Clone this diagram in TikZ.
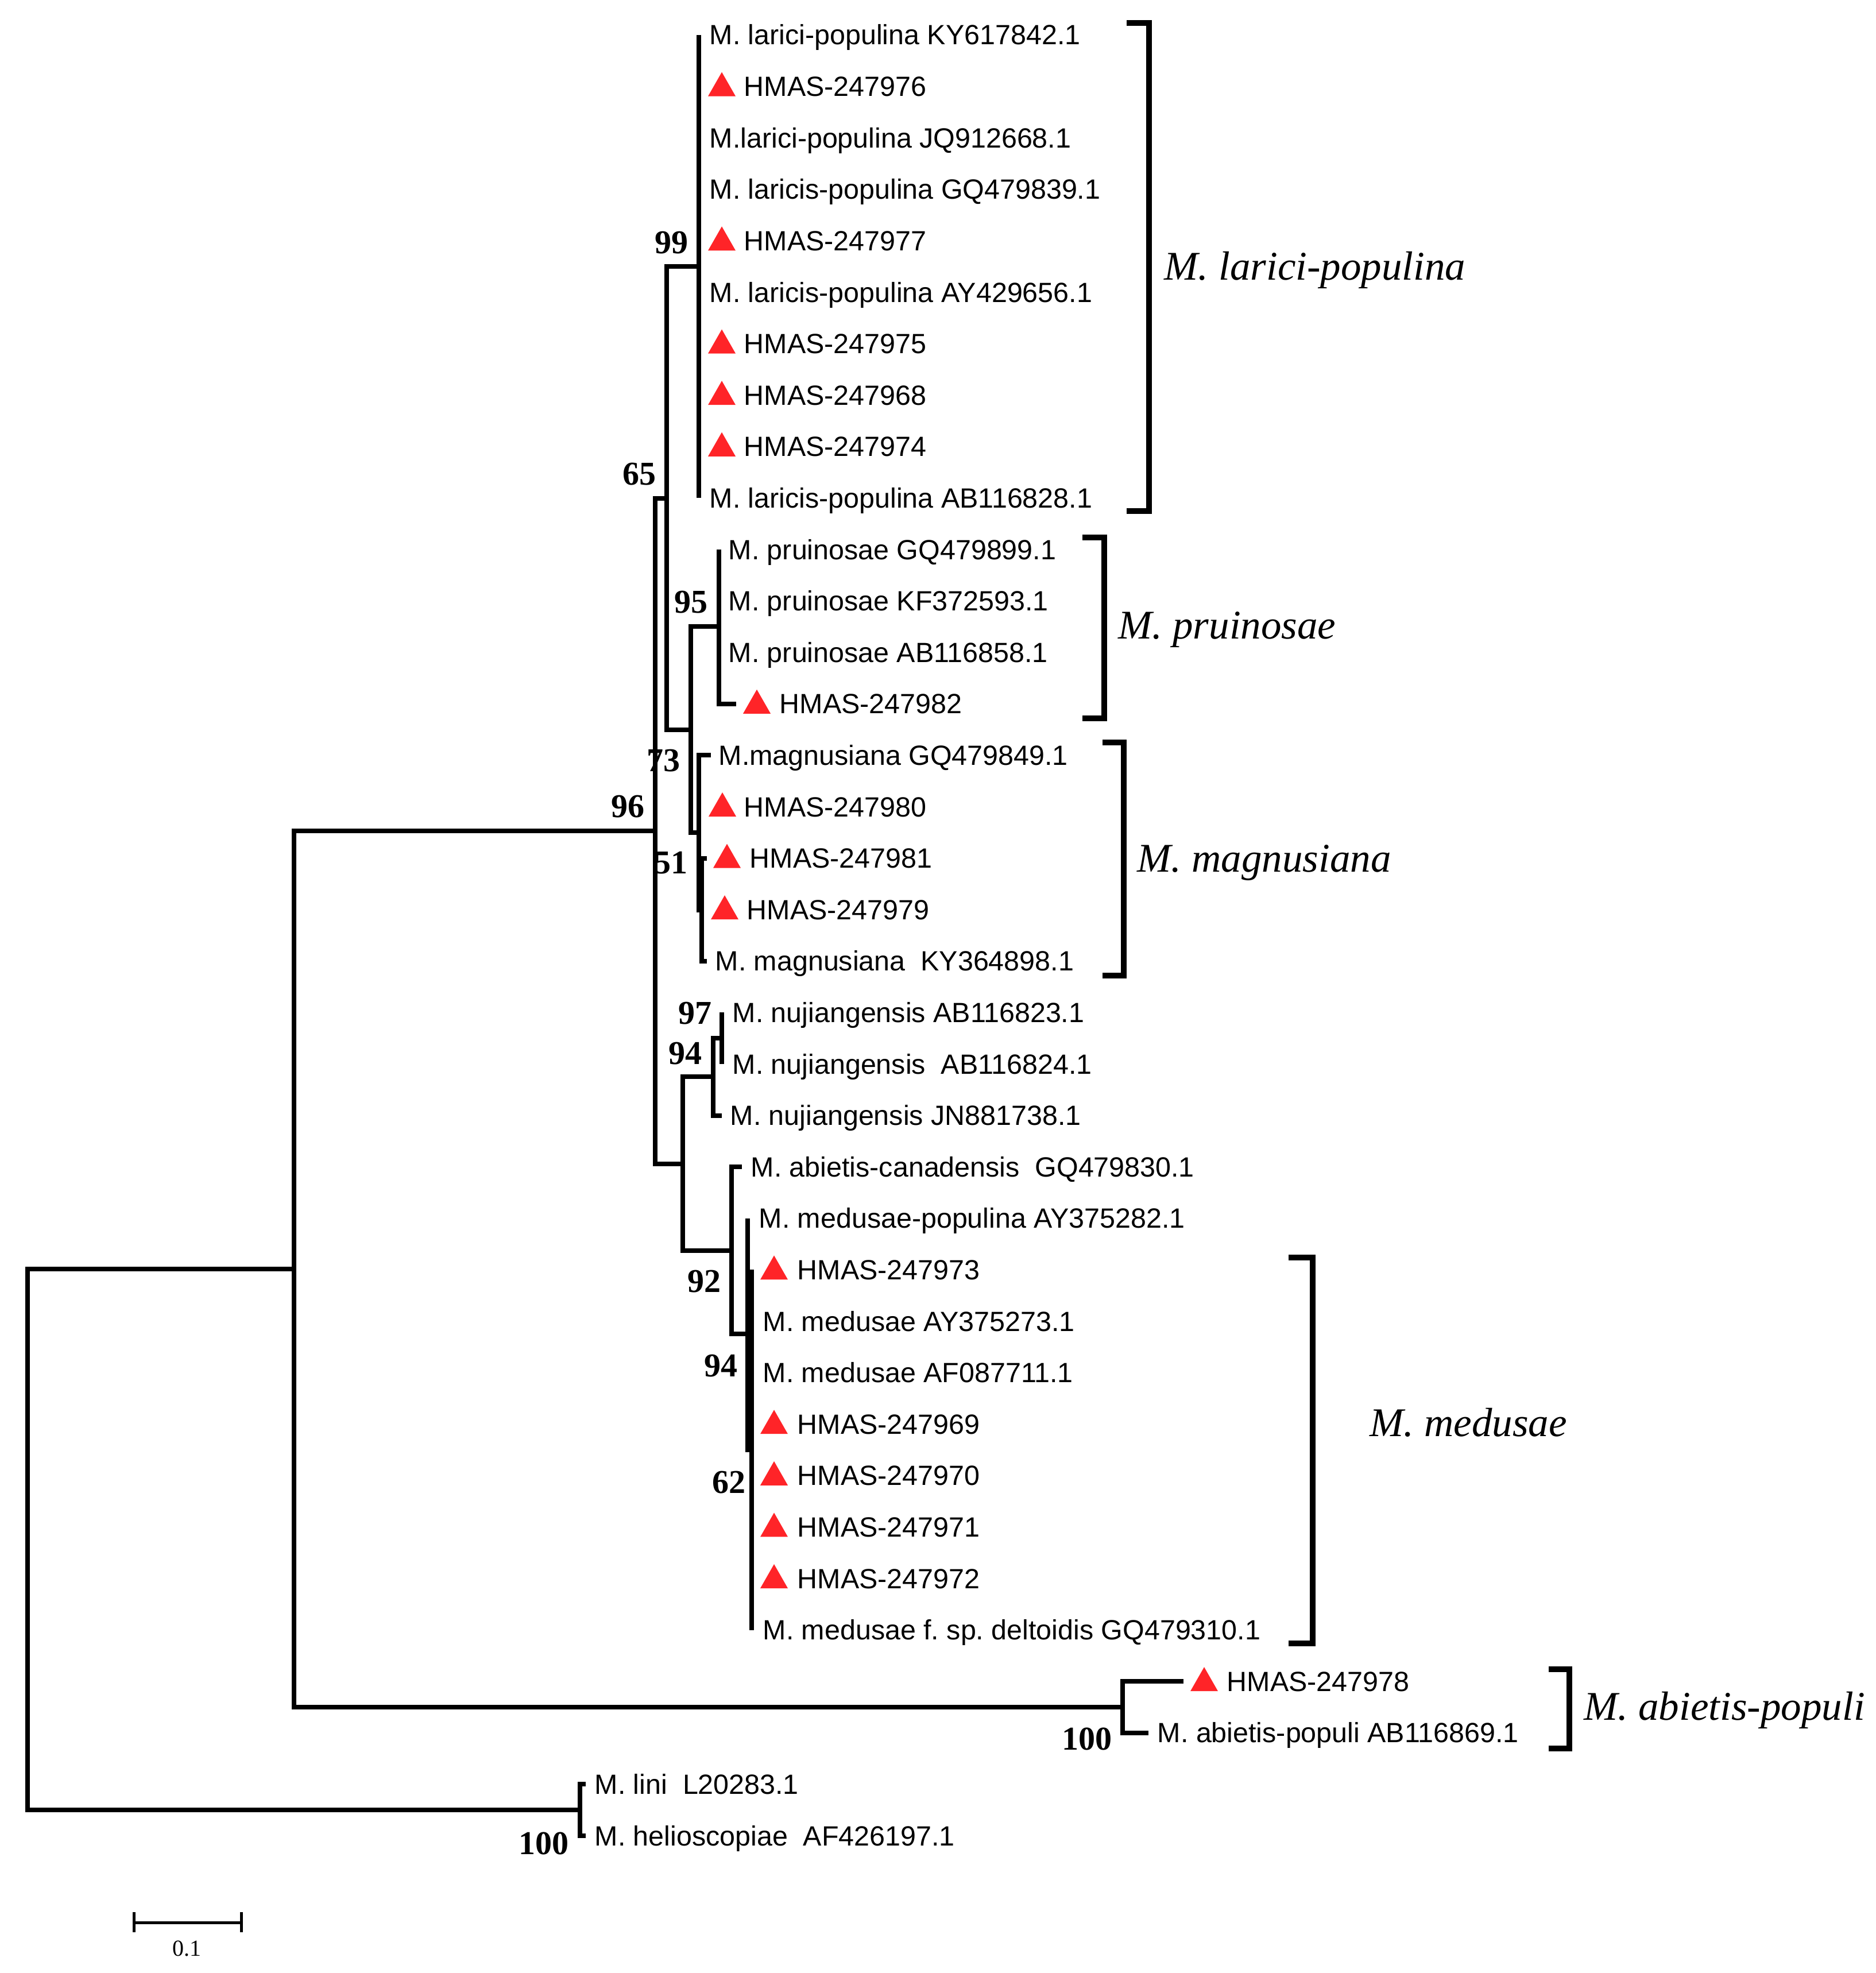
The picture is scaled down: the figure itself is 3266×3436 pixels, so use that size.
\documentclass[tikz,border=0pt]{standalone}
\usepackage{fontspec}
\setmainfont{Liberation Serif}
\newfontfamily\arialfont{Liberation Sans}
\definecolor{trired}{RGB}{255,36,40}
\newcommand\hmtri[2]{\fill[trired] (#1,#2) -- ++(48,0) -- ++(-24,-42) -- cycle;}
\tikzset{
  branch/.style={line width=2pt, line join=miter, line cap=butt},
  bracketline/.style={line width=2.4pt, line join=miter},
  leaf/.style={font=\arialfont\fontsize{12.1}{14}\selectfont, anchor=base west, inner sep=0pt},
  boot/.style={font=\bfseries\fontsize{14.5}{16}\selectfont, anchor=center, inner sep=0pt},
  grp/.style={font=\itshape\fontsize{17.75}{20}\selectfont, anchor=base west, inner sep=0pt},
}
\begin{document}
\frenchspacing
\begin{tikzpicture}[x=0.25pt,y=-0.25pt]
\useasboundingbox (0,0) rectangle (3266,3436);

% ---------- bootstrap labels (drawn first, lines over them) ----------
\node[boot] (b99)  at (1169,423)  {99};
\node[boot] (b65)  at (1113,826)  {65};
\node[boot] (b95)  at (1203,1049) {95};
\node[boot] (b73)  at (1155,1325) {73};
\node[boot] (b96)  at (1093,1405) {96};
\node[boot] (b51)  at (1168,1503) {51};
\node[boot] (b97)  at (1210,1765) {97};
\node[boot] (b94a) at (1193,1835) {94};
\node[boot] (b92)  at (1226,2232) {92};
\node[boot] (b94b) at (1255,2379) {94};
\node[boot] (b62)  at (1269,2582) {62};
\node[boot] (b100a) at (1893,3028) {100};
\node[boot] (b100b) at (947,3210) {100};

% ---------- internal nodes ----------
\coordinate (nR)   at (47.5,2681);
\coordinate (nA)   at (512,2210);
\coordinate (nL)   at (1009.5,3152.2);
\coordinate (nAP)  at (1955,2973);
\coordinate (n96)  at (1141,1447);
\coordinate (n65)  at (1161,867.5);
\coordinate (n99)  at (1217,464.2);
\coordinate (n73)  at (1203,1270.7);
\coordinate (n95)  at (1251.5,1091.4);
\coordinate (nMag) at (1217,1450);
\coordinate (n51)  at (1222,1584.6);
\coordinate (nX)   at (1189,2026.6);
\coordinate (n97)  at (1257,1808.2);
\coordinate (n94a) at (1241.5,1875.4);
\coordinate (n92)  at (1274,2177.8);
\coordinate (n94b) at (1302,2323.4);
\coordinate (n62)  at (1309,2525);

% ---------- leaf tips ----------
\coordinate (l1)  at (1217,61);
\coordinate (l10) at (1217,867.4);
\coordinate (l11) at (1251.5,957);
\coordinate (l14) at (1282,1225.8);
\coordinate (l15) at (1238,1315.4);
\coordinate (l17) at (1231,1494.6);
\coordinate (l19) at (1231,1673.8);
\coordinate (l20) at (1257,1763.4);
\coordinate (l21) at (1257,1853);
\coordinate (l22) at (1257,1942.6);
\coordinate (l23) at (1292,2032.2);
\coordinate (l24) at (1302,2121.8);
\coordinate (l25) at (1309,2211.4);
\coordinate (l32) at (1309,2838.6);
\coordinate (l33) at (2061,2928.2);
\coordinate (l34) at (2000,3017.8);
\coordinate (l35) at (1020,3107.4);
\coordinate (l36) at (1020,3197);

% ---------- branches ----------
\draw[branch] (nA) -| (nR) |- (nL);
\draw[branch] (l35) -| (nL) |- (l36);
\draw[branch] (n96) -| (nA) |- (nAP);
\draw[branch] (l33) -| (nAP) |- (l34);
\draw[branch] (n65) -| (n96) |- (nX);
\draw[branch] (n99) -| (n65) |- (n73);
\draw[branch] (l1) -- (n99) -- (l10);
\draw[branch] (n95) -| (n73) |- (nMag);
\draw[branch] (l11) -- (n95) |- (l14);
\draw[branch] (l15) -| (nMag) |- (n51);
\draw[branch] (l17) -| (n51) |- (l19);
\draw[branch] (n94a) -| (nX) |- (n92);
\draw[branch] (n97) -| (n94a) |- (l22);
\draw[branch] (l20) -- (n97) -- (l21);
\draw[branch] (l23) -| (n92) |- (n94b);
\draw[branch] (l24) -- (n94b) |- (n62);
\draw[branch] (l25) -- (n62) -- (l32);

% ---------- triangles ----------
\hmtri{1233}{167.6}
\hmtri{1233}{436.4}
\hmtri{1233}{615.6}
\hmtri{1233}{705.2}
\hmtri{1233}{794.8}
\hmtri{1294}{1242.8}
\hmtri{1234}{1422}
\hmtri{1242}{1511.6}
\hmtri{1238}{1601.2}
\hmtri{1324}{2228.4}
\hmtri{1324}{2497.2}
\hmtri{1324}{2586.8}
\hmtri{1324}{2676.4}
\hmtri{1324}{2766}
\hmtri{2073}{2945.2}

% ---------- leaf labels ----------
\node[leaf] (t1)  at (1235,78)     {M. larici-populina KY617842.1};
\node[leaf] (t2)  at (1295,167.6)  {HMAS-247976};
\node[leaf] (t3)  at (1235,257.2)  {M.larici-populina JQ912668.1};
\node[leaf] (t4)  at (1235,346.8)  {M. laricis-populina GQ479839.1};
\node[leaf] (t5)  at (1295,436.4)  {HMAS-247977};
\node[leaf] (t6)  at (1235,526)    {M. laricis-populina AY429656.1};
\node[leaf] (t7)  at (1295,615.6)  {HMAS-247975};
\node[leaf] (t8)  at (1295,705.2)  {HMAS-247968};
\node[leaf] (t9)  at (1295,794.8)  {HMAS-247974};
\node[leaf] (t10) at (1235,884.4)  {M. laricis-populina AB116828.1};
\node[leaf] (t11) at (1268,974)    {M. pruinosae GQ479899.1};
\node[leaf] (t12) at (1268,1063.6) {M. pruinosae KF372593.1};
\node[leaf] (t13) at (1268,1153.2) {M. pruinosae AB116858.1};
\node[leaf] (t14) at (1357,1242.8) {HMAS-247982};
\node[leaf] (t15) at (1251,1332.4) {M.magnusiana GQ479849.1};
\node[leaf] (t16) at (1295,1422)   {HMAS-247980};
\node[leaf] (t17) at (1305,1511.6) {HMAS-247981};
\node[leaf] (t18) at (1300,1601.2) {HMAS-247979};
\node[leaf] (t19) at (1245,1690.8) {M. magnusiana\ \ KY364898.1};
\node[leaf] (t20) at (1275,1780.4) {M. nujiangensis AB116823.1};
\node[leaf] (t21) at (1275,1870)   {M. nujiangensis\ \ AB116824.1};
\node[leaf] (t22) at (1271,1959.6) {M. nujiangensis JN881738.1};
\node[leaf] (t23) at (1307,2049.2) {M. abietis-canadensis\ \ GQ479830.1};
\node[leaf] (t24) at (1321,2138.8) {M. medusae-populina AY375282.1};
\node[leaf] (t25) at (1388,2228.4) {HMAS-247973};
\node[leaf] (t26) at (1328,2318)   {M. medusae AY375273.1};
\node[leaf] (t27) at (1328,2407.6) {M. medusae AF087711.1};
\node[leaf] (t28) at (1388,2497.2) {HMAS-247969};
\node[leaf] (t29) at (1388,2586.8) {HMAS-247970};
\node[leaf] (t30) at (1388,2676.4) {HMAS-247971};
\node[leaf] (t31) at (1388,2766)   {HMAS-247972};
\node[leaf] (t32) at (1328,2855.6) {M. medusae f. sp. deltoidis GQ479310.1};
\node[leaf] (t33) at (2136,2945.2) {HMAS-247978};
\node[leaf] (t34) at (2015,3034.8) {M. abietis-populi AB116869.1};
\node[leaf] (t35) at (1035,3124.4) {M. lini\ \ L20283.1};
\node[leaf] (t36) at (1035,3214)   {M. helioscopiae\ \ AF426197.1};

% ---------- clade brackets ----------
\draw[bracketline] (1962,40) -- (2001,40) -- (2001,890) -- (1962,890);
\draw[bracketline] (1885,936) -- (1923,936) -- (1923,1251) -- (1885,1251);
\draw[bracketline] (1920,1293) -- (1957,1293) -- (1957,1699) -- (1920,1699);
\draw[bracketline] (2244,2190) -- (2286,2190) -- (2286,2862) -- (2244,2862);
\draw[bracketline] (2697,2907) -- (2733,2907) -- (2733,3045) -- (2697,3045);

\node[grp] (g1) at (2027,487)  {M. larici-populina};
\node[grp] (g2) at (1947,1112) {M. pruinosae};
\node[grp] (g3) at (1980,1518) {M. magnusiana};
\node[grp] (g4) at (2385,2501) {M. medusae};
\node[grp] (g5) at (2758,2995) {M. abietis-populi};

% ---------- scale bar ----------
\coordinate (sb1) at (233.5,3348);
\coordinate (sb2) at (420.5,3348);
\draw[line width=1.25pt] (sb1) -- (sb2);
\draw[line width=1.25pt] ([yshift=-17*0.25pt]sb1) -- ([yshift=18*0.25pt]sb1);
\draw[line width=1.25pt] ([yshift=-17*0.25pt]sb2) -- ([yshift=18*0.25pt]sb2);
\node[font=\fontsize{10}{12}\selectfont, inner sep=0pt] (sbl) at (325,3393) {0.1};
\end{tikzpicture}
\end{document}
